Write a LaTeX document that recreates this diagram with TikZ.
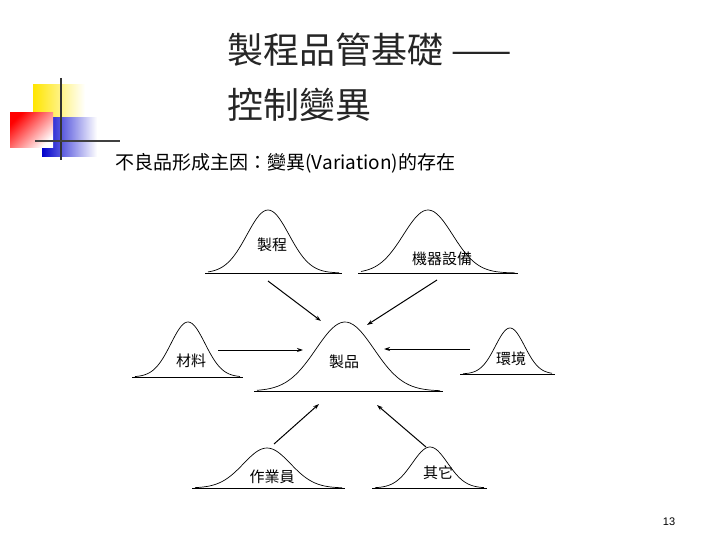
\documentclass[tikz,border=0pt]{standalone}
\usepackage{fontspec}
\usetikzlibrary{arrows.meta}
\newfontfamily\cjk{Noto Sans CJK TC}
\setmainfont{Liberation Sans}
\newcommand\bellcurve[6]{% name, x0, x1, xp, yb, height
  \pgfmathsetmacro\bsig{(#3-#2)/6.5}
  \draw[curve] (#2,#5) -- (#3,#5);
  \draw[curve] plot[domain=#2+3:#3-3,samples=60,smooth] (\x,{#5-#6*exp(-((\x-#4)/\bsig)^2/2)});
  \coordinate (#1) at (#4,#5);
}
\begin{document}
\begin{tikzpicture}[x=1pt,y=-1pt,
  curve/.style={line width=0.7pt},
  lab/.style={font=\cjk\fontsize{15}{15}\selectfont},
  arr/.style={-{Stealth[length=6pt,width=4pt]},line width=1pt}]
\useasboundingbox (0,0) rectangle (720,540);
% logo
\shade[left color=yellow!80!orange, right color=white] (33,85) rectangle (85,118);
\shade[left color=blue!80!black, right color=white] (42,118) rectangle (97,157);
\shade[top color=red, bottom color=white, shading angle=45] (10,113) rectangle (53,148);
\draw[line width=2.5pt,black!80] (61,78) -- (61,160);
\draw[line width=2.5pt,black!75] (35,141) -- (120,141);
% titles
\node[anchor=west,font=\cjk\fontsize{36}{36}\selectfont,text=black!85] (t1) at (224,50) {製程品管基礎 ——};
\node[anchor=west,font=\cjk\fontsize{36}{36}\selectfont,text=black!85] (t2) at (224,105) {控制變異};
\node[anchor=west,font=\cjk\fontsize{19}{19}\selectfont] (sub) at (112,163) {不良品形成主因：變異(Variation)的存在};
% curves
\bellcurve{c1}{205}{342}{268}{273}{63}
\bellcurve{c2}{358}{518}{428}{273}{63}
\bellcurve{c3}{132}{243}{188}{377}{55}
\bellcurve{c4}{254}{443}{345}{391}{69}
\bellcurve{c5}{460}{555}{510}{374}{46}
\bellcurve{c6}{192}{345}{267}{488}{40}
\bellcurve{c7}{372}{487}{430}{488}{41}
\node[lab] (l1) at (272,245) {製程};
\node[lab] (l2) at (442,259) {機器設備};
\node[lab] (l3) at (191,361) {材料};
\node[lab] (l4) at (344,362) {製品};
\node[lab] (l5) at (511,359) {環境};
\node[lab] (l6) at (272,477) {作業員};
\node[lab] (l7) at (438,473) {其它};
% arrow endpoints
\coordinate (a1s) at (268,281); \coordinate (a1e) at (321,321);
\coordinate (a2s) at (437,280); \coordinate (a2e) at (367,325);
\coordinate (a3s) at (218,350); \coordinate (a3e) at (303,350);
\coordinate (a4s) at (470,349); \coordinate (a4e) at (384,349);
\coordinate (a5s) at (274,444); \coordinate (a5e) at (319,404);
\coordinate (a6s) at (426,447); \coordinate (a6e) at (377,405);
\draw[arr] (a1s) -- (a1e);
\draw[arr] (a2s) -- (a2e);
\draw[arr] (a3s) -- (a3e);
\draw[arr] (a4s) -- (a4e);
\draw[arr] (a5s) -- (a5e);
\draw[arr] (a6s) -- (a6e);
\node[font=\fontsize{11}{11}\selectfont] (pg) at (669,522) {13};
\end{tikzpicture}
\end{document}
